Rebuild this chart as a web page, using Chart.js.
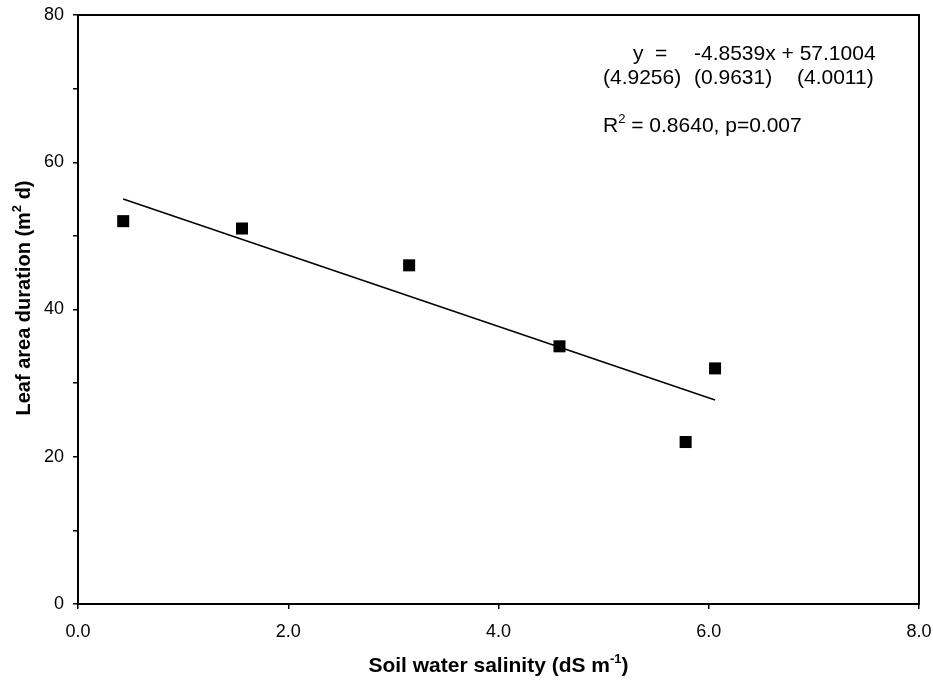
<!DOCTYPE html>
<html>
<head>
<meta charset="utf-8">
<script src="https://cdn.jsdelivr.net/npm/chart.js@4"></script>
<style>
  html, body { margin: 0; padding: 0; background: #fff; }
  #wrap { width: 933px; height: 681px; }
</style>
</head>
<body>
<div id="wrap"><canvas id="salinityChart" width="933" height="681"></canvas></div>
<script>
// measured points
var salinity = [0.43, 1.56, 3.15, 4.58, 5.78, 6.06];
var leafAreaDuration = [52, 51, 46, 35, 22, 32];
// fitted line ends (y = -4.8539x + 57.1004)
var fitX = [0.43, 6.06];
var fitY = [55.0, 27.7];
var xTicks = [0, 2, 4, 6, 8];
var yTicks = [0, 20, 40, 60, 80];
var yMinorTicks = [0, 10, 20, 30, 40, 50, 60, 70, 80];

var font = "'Liberation Sans', Arial, sans-serif";

// draws text with a small raised part in the middle
function supText(ctx, x, y, parts, big, small, bold) {
    var b = bold ? 'bold ' : '';
    ctx.font = b + big + 'px ' + font;
    ctx.fillText(parts[0], x, y);
    x += ctx.measureText(parts[0]).width;
    ctx.font = b + small + 'px ' + font;
    ctx.fillText(parts[1], x, y - 7);
    x += ctx.measureText(parts[1]).width;
    ctx.font = b + big + 'px ' + font;
    ctx.fillText(parts[2], x, y);
}
function supWidth(ctx, parts, big, small, bold) {
    var b = bold ? 'bold ' : '';
    ctx.font = b + big + 'px ' + font;
    var w = ctx.measureText(parts[0]).width + ctx.measureText(parts[2]).width;
    ctx.font = b + small + 'px ' + font;
    return w + ctx.measureText(parts[1]).width;
}

// frame, annotations and axis titles with superscripts
var extras = {
    id: 'extras',
    afterDraw: function (chart) {
        var ctx = chart.ctx;
        var a = chart.chartArea;
        ctx.save();
        ctx.strokeStyle = '#000';
        ctx.lineWidth = 2;
        ctx.strokeRect(a.left, a.top, a.right - a.left, a.bottom - a.top);

        ctx.fillStyle = '#000';
        ctx.textBaseline = 'middle';
        ctx.textAlign = 'left';
        ctx.font = '21px ' + font;
        ctx.fillText('y', 633, 54);
        ctx.fillText('=', 655, 54);
        ctx.fillText('-4.8539x + 57.1004', 694, 54);
        ctx.fillText('(4.9256)', 603, 78);
        ctx.fillText('(0.9631)', 694, 78);
        ctx.fillText('(4.0011)', 797, 78);
        supText(ctx, 603, 126, ['R', '2', ' = 0.8640, p=0.007'], 21, 13, false);

        // x axis title
        var xt = ['Soil water salinity (dS m', '-1', ')'];
        var xw = supWidth(ctx, xt, 21, 13, true);
        supText(ctx, (a.left + a.right) / 2 - xw / 2, 666, xt, 21, 13, true);

        // y axis title
        var yt = ['Leaf area duration (m', '2', ' d)'];
        var yw = supWidth(ctx, yt, 20, 13, true);
        ctx.translate(24, 298);
        ctx.rotate(-Math.PI / 2);
        supText(ctx, -yw / 2, 0, yt, 20, 13, true);
        ctx.restore();
    }
};

var ctx = document.getElementById('salinityChart').getContext('2d');
var salinityChart = new Chart(ctx, {
    type: 'scatter',
    data: {
        datasets: [{
            label: 'Leaf area duration',
            data: salinity.map(function (v, i) { return { x: v, y: leafAreaDuration[i] }; }),
            pointStyle: 'rect',
            pointRadius: 8.5,
            pointBackgroundColor: '#000',
            pointBorderWidth: 0,
            showLine: false
        }, {
            label: 'Fit',
            data: fitX.map(function (v, i) { return { x: v, y: fitY[i] }; }),
            showLine: true,
            borderColor: '#000',
            borderWidth: 1.5,
            pointRadius: 0
        }]
    },
    options: {
        responsive: false,
        animation: false,
        layout: { padding: { top: 15, right: 14, left: 0, bottom: 0 } },
        plugins: {
            legend: { display: false },
            tooltip: { enabled: false }
        },
        scales: {
            x: {
                type: 'linear',
                min: 0,
                max: 8,
                afterFit: function (s) { s.height = 77; s.paddingLeft = 0; s.paddingRight = 0; },
                afterBuildTicks: function (s) { s.ticks = xTicks.map(function (v) { return { value: v }; }); },
                ticks: {
                    color: '#000',
                    font: { family: font, size: 18 },
                    padding: 12,
                    maxRotation: 0,
                    callback: function (v) { return v.toFixed(1); }
                },
                grid: { drawOnChartArea: false, drawTicks: true, tickLength: 5, color: '#000', lineWidth: 1.5 },
                border: { display: true, color: '#000', width: 2 }
            },
            y: {
                min: 0,
                max: 80,
                afterFit: function (s) { s.width = 78; s.paddingTop = 0; s.paddingBottom = 0; },
                afterBuildTicks: function (s) {
                    s.ticks = yMinorTicks.map(function (v) { return { value: v }; });
                },
                ticks: {
                    color: '#000',
                    font: { family: font, size: 18 },
                    padding: 9,
                    callback: function (v) { return yTicks.indexOf(v) >= 0 ? String(v) : ''; }
                },
                grid: { drawOnChartArea: false, drawTicks: true, tickLength: 5, color: '#000', lineWidth: 1.5 },
                border: { display: true, color: '#000', width: 2 }
            }
        }
    },
    plugins: [extras]
});
</script>
</body>
</html>
